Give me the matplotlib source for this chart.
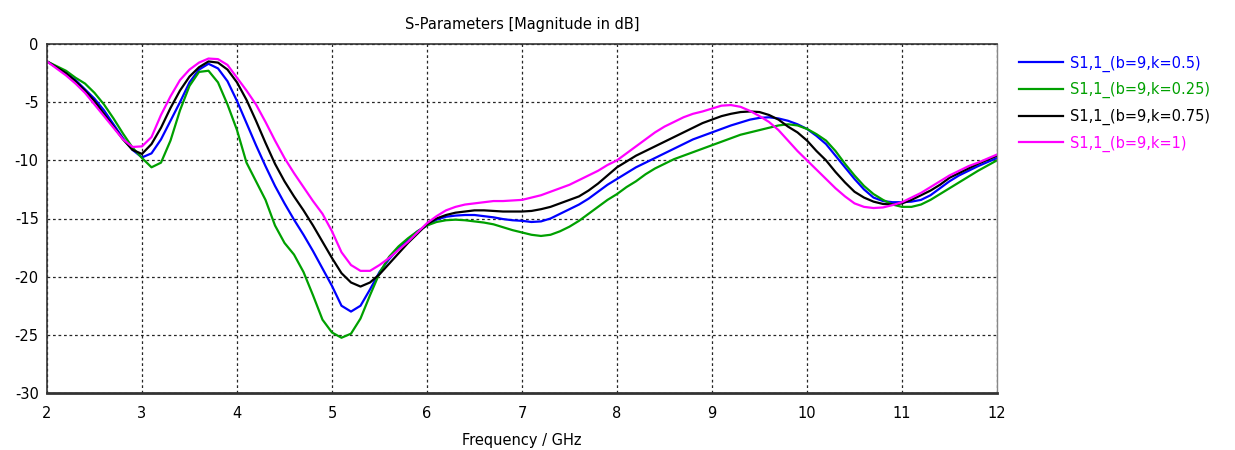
import numpy as np
import matplotlib
matplotlib.use("Agg")
import matplotlib.pyplot as plt

# Frequency axis (GHz), 0.1 GHz steps
freq_ghz = [round(2.0 + 0.1 * i, 1) for i in range(101)]

# |S11| in dB for b=9 and four values of k
s11_k05 = [
    -1.5, -2.0, -2.5, -3.1, -3.9, -4.7, -5.7, -6.9, -8.1, -9.1,
    -9.75, -9.4, -8.2, -6.6, -5.0, -3.3, -2.2, -1.7, -2.1, -3.2,
    -4.9, -6.8, -8.7, -10.5, -12.2, -13.7, -15.1, -16.4, -17.8, -19.3,
    -20.8, -22.5, -23.0, -22.5, -21.1, -19.6, -18.5, -17.6, -16.8, -16.1,
    -15.6, -15.1, -14.85, -14.75, -14.7, -14.7, -14.8, -14.9, -15.05, -15.15,
    -15.2, -15.3, -15.25, -15.0, -14.6, -14.2, -13.8, -13.3, -12.7, -12.1,
    -11.6, -11.1, -10.6, -10.2, -9.8, -9.4, -9.0, -8.6, -8.2, -7.9,
    -7.6, -7.3, -7.0, -6.75, -6.5, -6.35, -6.3, -6.4, -6.6, -6.9,
    -7.3, -7.9, -8.6, -9.6, -10.6, -11.6, -12.5, -13.2, -13.5, -13.6,
    -13.6, -13.55, -13.4, -13.0, -12.4, -11.8, -11.3, -10.9, -10.5, -10.15,
    -9.8,
]

s11_k025 = [
    -1.5, -1.9, -2.3, -2.9, -3.4, -4.2, -5.2, -6.4, -7.7, -8.9,
    -9.8, -10.6, -10.2, -8.3, -5.7, -3.6, -2.4, -2.3, -3.3, -5.2,
    -7.4, -10.2, -11.8, -13.4, -15.6, -17.1, -18.1, -19.6, -21.6, -23.7,
    -24.8, -25.25, -24.9, -23.6, -21.6, -19.7, -18.3, -17.4, -16.7, -16.1,
    -15.6, -15.3, -15.15, -15.1, -15.15, -15.25, -15.35, -15.5, -15.75, -16.0,
    -16.2, -16.4, -16.5, -16.4, -16.1, -15.7, -15.2, -14.6, -14.0, -13.4,
    -12.9, -12.3, -11.8, -11.2, -10.7, -10.3, -9.9, -9.6, -9.3, -9.0,
    -8.7, -8.4, -8.1, -7.8, -7.6, -7.4, -7.2, -7.0, -6.9, -7.0,
    -7.3, -7.75, -8.3, -9.2, -10.3, -11.3, -12.2, -12.9, -13.4, -13.8,
    -14.0, -14.0, -13.8, -13.4, -12.9, -12.4, -11.9, -11.4, -10.9, -10.45,
    -10.0,
]

s11_k075 = [
    -1.5, -2.0, -2.5, -3.2, -4.0, -4.9, -6.0, -7.1, -8.2, -9.1,
    -9.45, -8.6, -7.2, -5.5, -4.0, -2.8, -2.0, -1.5, -1.6, -2.2,
    -3.3, -4.8, -6.6, -8.5, -10.3, -11.8, -13.1, -14.3, -15.6, -17.0,
    -18.4, -19.7, -20.5, -20.85, -20.5, -19.8, -18.9, -18.0, -17.1, -16.3,
    -15.5, -15.0, -14.7, -14.5, -14.4, -14.3, -14.3, -14.35, -14.4, -14.4,
    -14.4, -14.35, -14.2, -14.0, -13.7, -13.4, -13.1, -12.6, -12.0, -11.3,
    -10.6, -10.1, -9.6, -9.2, -8.8, -8.4, -8.0, -7.6, -7.2, -6.8,
    -6.5, -6.2, -6.0, -5.85, -5.8, -5.85, -6.1, -6.5, -7.1, -7.6,
    -8.3, -9.2, -10.0, -11.0, -11.9, -12.7, -13.2, -13.55, -13.75, -13.8,
    -13.7, -13.4, -13.0, -12.6, -12.1, -11.5, -11.1, -10.7, -10.3, -9.95,
    -9.6,
]

s11_k1 = [
    -1.5, -2.1, -2.7, -3.4, -4.2, -5.2, -6.2, -7.2, -8.2, -8.85,
    -8.8, -8.0, -6.1, -4.5, -3.1, -2.2, -1.6, -1.25, -1.3, -1.8,
    -2.9, -4.0, -5.2, -6.7, -8.3, -9.8, -11.1, -12.3, -13.5, -14.6,
    -16.1, -17.9, -19.0, -19.5, -19.5, -19.0, -18.4, -17.7, -17.0, -16.2,
    -15.4, -14.8, -14.3, -14.0, -13.8, -13.7, -13.6, -13.5, -13.5, -13.45,
    -13.4, -13.2, -13.0, -12.7, -12.4, -12.1, -11.7, -11.3, -10.9, -10.4,
    -10.0, -9.4, -8.8, -8.2, -7.6, -7.1, -6.7, -6.3, -6.0, -5.8,
    -5.55, -5.3, -5.25, -5.4, -5.75, -6.2, -6.7, -7.4, -8.3, -9.2,
    -10.0, -10.8, -11.6, -12.4, -13.1, -13.7, -14.0, -14.1, -14.05, -13.85,
    -13.6, -13.2, -12.8, -12.3, -11.8, -11.3, -10.9, -10.5, -10.2, -9.85,
    -9.5,
]

series_labels = [
    "S1,1_(b=9,k=0.5)",
    "S1,1_(b=9,k=0.25)",
    "S1,1_(b=9,k=0.75)",
    "S1,1_(b=9,k=1)",
]
series_values = [s11_k05, s11_k025, s11_k075, s11_k1]
series_colors = ["#0000ff", "#00a000", "#000000", "#ff00ff"]

x_ticks = [2, 3, 4, 5, 6, 7, 8, 9, 10, 11, 12]
y_ticks = [0, -5, -10, -15, -20, -25, -30]

plt.rcParams["font.family"] = ["DejaVu Sans"]

fig = plt.figure(figsize=(12.35, 4.5), dpi=100)
ax = fig.add_axes([47 / 1235, 57 / 450, 950 / 1235, 349 / 450])

for vals, lab, col in zip(series_values, series_labels, series_colors):
    ax.plot(freq_ghz, vals, color=col, lw=1.6, label=lab)

ax.set_xlim(2, 12)
ax.set_ylim(-30, 0)
ax.set_xticks(x_ticks)
ax.set_yticks(y_ticks)
ax.set_xticklabels([str(t) for t in x_ticks], fontsize=10.5)
ax.set_yticklabels([str(t) for t in y_ticks], fontsize=10.5)
ax.tick_params(axis="x", length=0, pad=9)
ax.tick_params(axis="y", length=0, pad=6)

ax.grid(True, color="black", linestyle=(0, (2.2, 2.2)), linewidth=0.9, alpha=0.85)
ax.set_axisbelow(True)

for side in ["left", "top"]:
    ax.spines[side].set_color("#333333")
    ax.spines[side].set_linewidth(1.2)
ax.spines["bottom"].set_color("#333333")
ax.spines["bottom"].set_linewidth(2.0)
ax.spines["right"].set_color("#888888")
ax.spines["right"].set_linewidth(1.0)

ax.set_title("S-Parameters [Magnitude in dB]", fontsize=10.5, pad=11)
ax.set_xlabel("Frequency / GHz", fontsize=10.5, labelpad=9)

leg = ax.legend(loc="upper left", bbox_to_anchor=(1.017, 0.984), frameon=False,
                fontsize=10.5, handlelength=3.0, handletextpad=0.5,
                labelspacing=0.72, borderaxespad=0)
for txt, col in zip(leg.get_texts(), series_colors):
    txt.set_color(col)

fig.savefig("out.png", dpi=100)
